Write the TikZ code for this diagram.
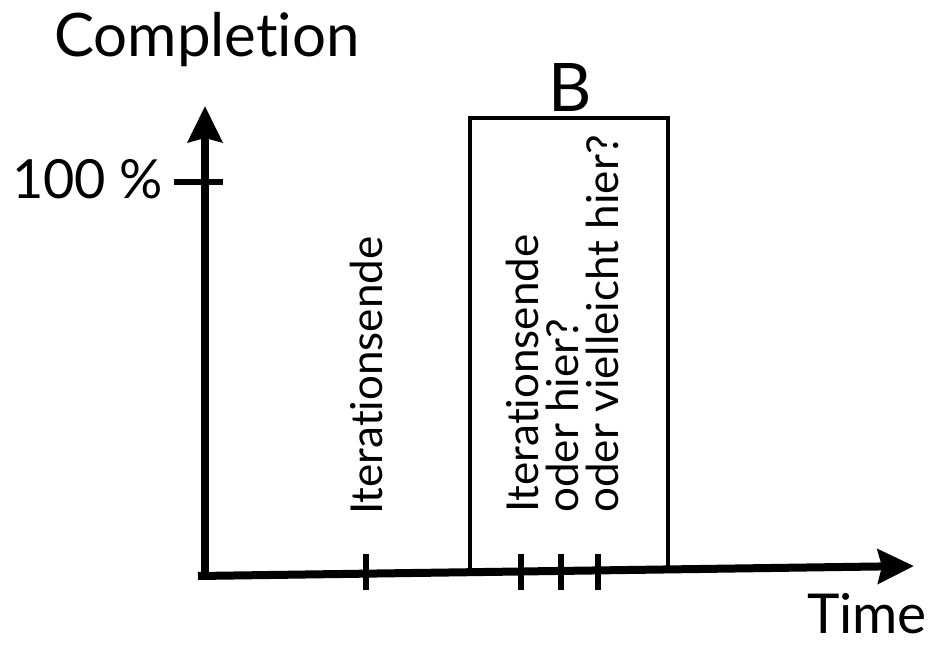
\documentclass[tikz,border=0pt]{standalone}
\usepackage{fontspec}
\setmainfont[Ligatures={NoCommon}]{Lato}
\usetikzlibrary{arrows.meta}
\begin{document}
\begin{tikzpicture}[x=1pt,y=-1pt,
  axis/.style={line width=8pt,-{Stealth[length=36pt,width=34pt,inset=4pt]}},
  tick/.style={line width=5.5pt},
  frame/.style={draw,line width=4pt},
  big/.style={inner sep=0pt,font=\fontsize{57}{60}\selectfont},
  vlabel/.style={inner sep=0pt,rotate=90,anchor=north west,align=left,
    font=\fontsize{44}{40}\selectfont}]
\useasboundingbox (0,0) rectangle (938,647);
% box B
\draw[frame] (470,118) rectangle (668,571);
% axes
\coordinate (o) at (205,576);
\coordinate (ytip) at (205,106);
\coordinate (xtip) at (914,566);
\draw[axis] (198,576) -- (xtip);
\draw[axis] (o) -- (ytip);
% y tick
\coordinate (yt1) at (174,182);
\coordinate (yt2) at (223,182);
\draw[tick] (yt1) -- (yt2);
% x ticks
\foreach \x/\n in {366/a,521/b,561/c,598/d}{
  \coordinate (t\n1) at (\x,554);
  \coordinate (t\n2) at (\x,590);
  \draw[tick] (t\n1) -- (t\n2);
}
% labels
\node[big,anchor=base west,font=\fontsize{60}{64}\selectfont] (comp) at (54,57) {Completion};
\node[big,anchor=base west,font=\fontsize{54}{58}\selectfont] (hund) at (12,199) {100 \%};
\node[big,anchor=base,font=\fontsize{67}{70}\selectfont] (B) at (570,112) {B};
\node[big,anchor=base east,text depth=0pt,font=\fontsize{55}{58}\selectfont] (time) at (927,633) {Time};
\node[vlabel] (l1) at (350,515) {Iterationsende};
\node[vlabel] (l2) at (506,513) {Iterationsende\\oder hier?\\oder vielleicht hier?};
\end{tikzpicture}
\end{document}
